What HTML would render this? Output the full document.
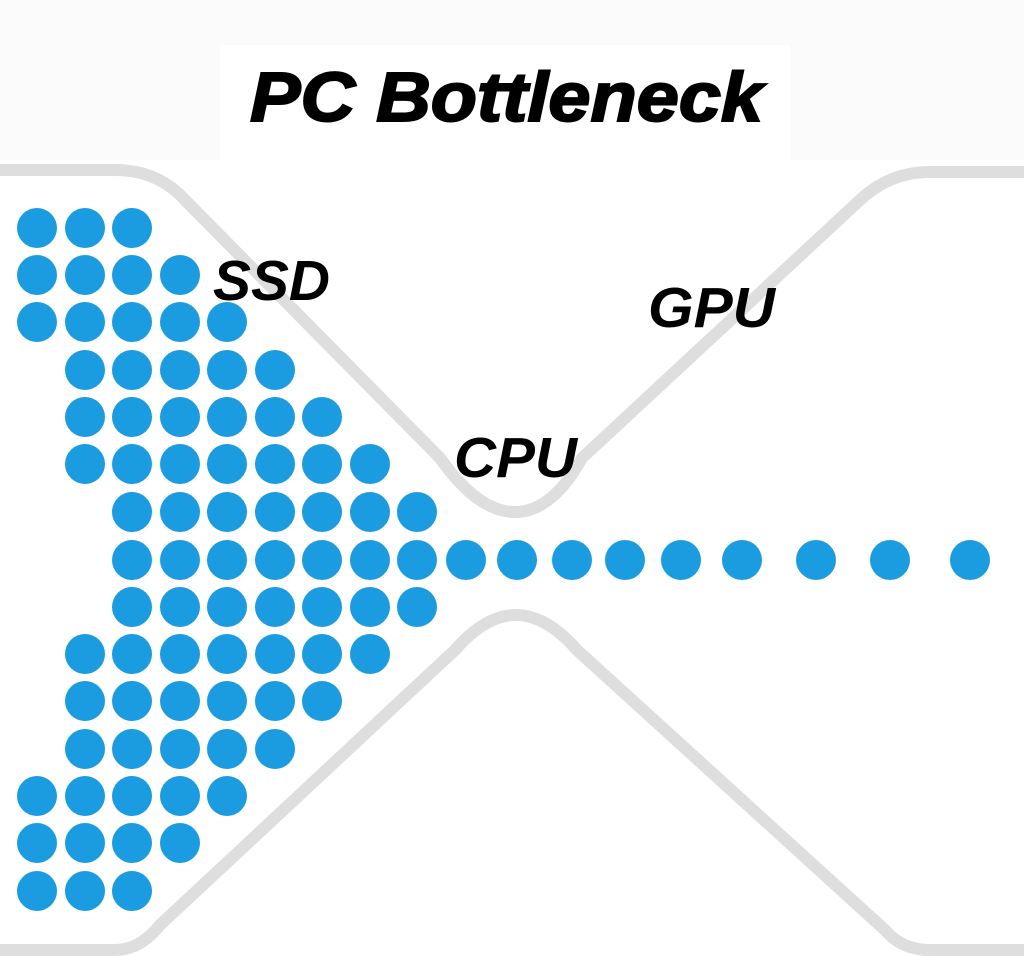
<!DOCTYPE html>
<html><head><meta charset="utf-8"><style>
html,body{margin:0;padding:0;background:#fff;}
svg{display:block;}
</style></head><body>
<svg width="1024" height="956" viewBox="0 0 1024 956" xmlns="http://www.w3.org/2000/svg">
<rect width="1024" height="956" fill="#fbfbfb"/>
<rect x="0" y="160" width="1024" height="796" fill="#fff"/>
<rect x="220" y="45" width="570" height="115" fill="#fff"/>
<text x="250" y="121" font-family="Liberation Sans, sans-serif" font-weight="bold" font-style="italic" font-size="70" textLength="513" lengthAdjust="spacingAndGlyphs" fill="#000" stroke="#000" stroke-width="2">PC Bottleneck</text>
<g fill="none" stroke="#dedede" stroke-width="12" stroke-linecap="round" stroke-linejoin="round">
<path d="M-10,170 H115 Q158,170 185,200 L440,458 Q478,512 515,512 Q552,512 582,458 L860,200 Q890,172 930,172 H1034"/>
<path d="M-10,950 H115 Q140,950 160,925 L455,650 Q516,580 577,650 L885,930 Q902,950 930,950 H1034"/>
</g>
<g font-family="Liberation Sans, sans-serif" font-weight="bold" font-style="italic" font-size="57" fill="#000">
<text x="213" y="300" textLength="117" lengthAdjust="spacingAndGlyphs">SSD</text>
<text x="454" y="477" textLength="123" lengthAdjust="spacingAndGlyphs">CPU</text>
<text x="648" y="327" textLength="127" lengthAdjust="spacingAndGlyphs">GPU</text>
</g>
<g fill="#1b9be0">
<circle cx="37" cy="228" r="20"/><circle cx="85" cy="228" r="20"/><circle cx="132" cy="228" r="20"/>
<circle cx="37" cy="275" r="20"/><circle cx="85" cy="275" r="20"/><circle cx="132" cy="275" r="20"/><circle cx="180" cy="275" r="20"/>
<circle cx="37" cy="322" r="20"/><circle cx="85" cy="322" r="20"/><circle cx="132" cy="322" r="20"/><circle cx="180" cy="322" r="20"/><circle cx="227" cy="322" r="20"/>
<circle cx="85" cy="370" r="20"/><circle cx="132" cy="370" r="20"/><circle cx="180" cy="370" r="20"/><circle cx="227" cy="370" r="20"/><circle cx="275" cy="370" r="20"/>
<circle cx="85" cy="417" r="20"/><circle cx="132" cy="417" r="20"/><circle cx="180" cy="417" r="20"/><circle cx="227" cy="417" r="20"/><circle cx="275" cy="417" r="20"/><circle cx="322" cy="417" r="20"/>
<circle cx="85" cy="464" r="20"/><circle cx="132" cy="464" r="20"/><circle cx="180" cy="464" r="20"/><circle cx="227" cy="464" r="20"/><circle cx="275" cy="464" r="20"/><circle cx="322" cy="464" r="20"/><circle cx="370" cy="464" r="20"/>
<circle cx="132" cy="512" r="20"/><circle cx="180" cy="512" r="20"/><circle cx="227" cy="512" r="20"/><circle cx="275" cy="512" r="20"/><circle cx="322" cy="512" r="20"/><circle cx="370" cy="512" r="20"/><circle cx="417" cy="512" r="20"/>
<circle cx="132" cy="560" r="20"/><circle cx="180" cy="560" r="20"/><circle cx="227" cy="560" r="20"/><circle cx="275" cy="560" r="20"/><circle cx="322" cy="560" r="20"/><circle cx="370" cy="560" r="20"/><circle cx="417" cy="560" r="20"/>
<circle cx="466" cy="560" r="20"/><circle cx="517" cy="560" r="20"/><circle cx="572" cy="560" r="20"/><circle cx="625" cy="560" r="20"/><circle cx="681" cy="560" r="20"/><circle cx="742" cy="560" r="20"/><circle cx="816" cy="560" r="20"/><circle cx="890" cy="560" r="20"/><circle cx="970" cy="560" r="20"/>
<circle cx="132" cy="607" r="20"/><circle cx="180" cy="607" r="20"/><circle cx="227" cy="607" r="20"/><circle cx="275" cy="607" r="20"/><circle cx="322" cy="607" r="20"/><circle cx="370" cy="607" r="20"/><circle cx="417" cy="607" r="20"/>
<circle cx="85" cy="654" r="20"/><circle cx="132" cy="654" r="20"/><circle cx="180" cy="654" r="20"/><circle cx="227" cy="654" r="20"/><circle cx="275" cy="654" r="20"/><circle cx="322" cy="654" r="20"/><circle cx="370" cy="654" r="20"/>
<circle cx="85" cy="701" r="20"/><circle cx="132" cy="701" r="20"/><circle cx="180" cy="701" r="20"/><circle cx="227" cy="701" r="20"/><circle cx="275" cy="701" r="20"/><circle cx="322" cy="701" r="20"/>
<circle cx="85" cy="749" r="20"/><circle cx="132" cy="749" r="20"/><circle cx="180" cy="749" r="20"/><circle cx="227" cy="749" r="20"/><circle cx="275" cy="749" r="20"/>
<circle cx="37" cy="796" r="20"/><circle cx="85" cy="796" r="20"/><circle cx="132" cy="796" r="20"/><circle cx="180" cy="796" r="20"/><circle cx="227" cy="796" r="20"/>
<circle cx="37" cy="843" r="20"/><circle cx="85" cy="843" r="20"/><circle cx="132" cy="843" r="20"/><circle cx="180" cy="843" r="20"/>
<circle cx="37" cy="891" r="20"/><circle cx="85" cy="891" r="20"/><circle cx="132" cy="891" r="20"/>
</g>
</svg>
</body></html>
